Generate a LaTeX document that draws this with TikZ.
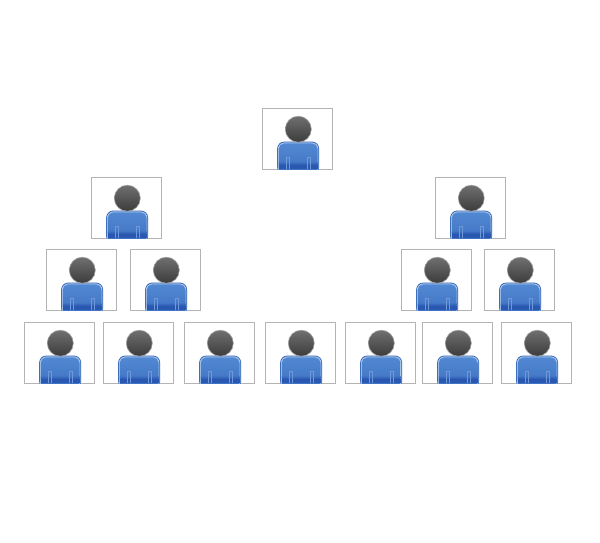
\documentclass[tikz,border=0pt]{standalone}
\definecolor{frameC}{HTML}{B4B4B4}
\definecolor{headTop}{HTML}{707070}
\definecolor{headBot}{HTML}{3C3C3C}
\definecolor{headRim}{HTML}{A0A0A0}
\definecolor{bodyTop}{HTML}{5288D2}
\definecolor{bodyBot}{HTML}{3D70C2}
\definecolor{bodyRim}{HTML}{A6C4EA}
\definecolor{bodyEdge}{HTML}{2F62B4}
\definecolor{bandC}{HTML}{2A57B0}
\definecolor{armC}{HTML}{7099D8}
\tikzset{
  frame/.style={draw=frameC,line width=0.9pt,fill=white,rectangle,inner sep=0pt,outer sep=0pt,minimum width=70pt,minimum height=61pt,anchor=north west},
  person/.pic={
    % coordinates relative to the frame's top-left corner, in px
    \begin{scope}
      \clip (0.4,0) rectangle (69.6,60.6);
      \path[fill=bodyEdge,rounded corners=7pt] (14.8,66) -- (14.8,33.2) -- (56.7,33.2) -- (56.7,66) -- cycle;
      \path[fill=bodyRim,rounded corners=6.5pt] (15.5,66) -- (15.5,34) -- (56,34) -- (56,66) -- cycle;
      \path[top color=bodyTop,bottom color=bodyBot,rounded corners=5.5pt]
        (16.4,66) -- (16.4,35) -- (55.1,35) -- (55.1,66) -- cycle;
      \path[top color=bodyBot,bottom color=bandC] (16.4,54) rectangle (55.1,56.5);
      \fill[bandC] (16.4,56.5) rectangle (55.1,61);
      \draw[armC,line width=0.9pt] (23.6,61) -- (23.6,49.5) -- (26.6,49.5) -- (26.6,61);
      \draw[armC,line width=0.9pt] (45.2,61) -- (45.2,49.5) -- (48.2,49.5) -- (48.2,61);
    \end{scope}
    \path[top color=headTop,bottom color=headBot,draw=headRim,line width=0.6pt] (35.9,20.8) circle (13);
  }
}
\begin{document}
\begin{tikzpicture}[x=1pt,y=-1pt]
\useasboundingbox[fill=white] (0,0) rectangle (600,542);
\foreach \nm/\px/\py in {
  a/262.4/108.4,
  b/91.4/177.4, c/435.4/177.4,
  d/46.4/249.4, e/130.4/249.4, f/401.4/249.4, g/484.4/249.4,
  h/24.4/322.4, i/103.4/322.4, j/184.4/322.4, k/265.4/322.4, l/345.4/322.4, m/422.4/322.4, n/501.4/322.4}{
  \node[frame] (\nm) at (\px,\py) {};
  \pic at (\nm.north west) {person};
}
\end{tikzpicture}
\end{document}
